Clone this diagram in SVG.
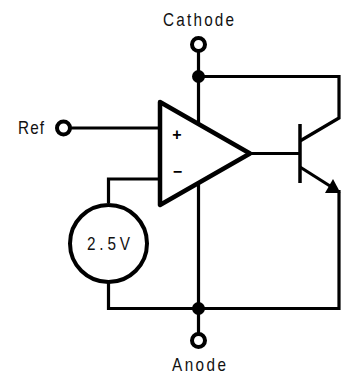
<svg xmlns="http://www.w3.org/2000/svg" width="344" height="374" viewBox="0 0 344 374">
<style>
.w{fill:none;stroke:#000;stroke-width:3.2}
.o{fill:#fff;stroke:#000;stroke-width:4}
.t{font-family:"Liberation Sans",Arial,sans-serif;font-size:18px;fill:#111}
.s{font-family:"Liberation Sans",Arial,sans-serif;font-size:16px;font-weight:bold;fill:#000;text-anchor:middle}
</style>
<g id="connectors">
<path class="w" d="M198.500 50V125"/>
<path class="w" d="M198.500 76.500H339V118L300 141"/>
<path class="w" d="M71 128H160"/>
<path class="w" d="M160 179H108.500V203"/>
<path class="w" d="M108.500 282V308.500H339V190"/>
<path class="w" d="M198.500 177V335"/>
<path class="w" d="M250 153.500H300"/>
<path class="w" d="M300 167L330 186"/>
<polygon points="325,193 333,179 340.500,193" fill="#000"/>
</g>
<g id="opamp"><polygon points="160,102 250,153.500 160,205" fill="#fff" stroke="#000" stroke-width="4.500" stroke-linejoin="round"/>
<text class="s" x="177" y="139.500">+</text><text class="s" x="177.500" y="177">−</text></g>
<g id="transistor"><path d="M300 124V183" fill="none" stroke="#000" stroke-width="3.500"/></g>
<g id="junction-top"><circle cx="198.500" cy="76.500" r="6.500"/></g>
<g id="junction-bottom"><circle cx="198.500" cy="308.500" r="6.500"/></g>
<g id="cathode"><circle class="o" cx="198.500" cy="44.500" r="6.500"/><text class="t" transform="translate(163 25.500) scale(.85 1)" letter-spacing="2.600">Cathode</text></g>
<g id="anode"><circle class="o" cx="198.500" cy="340.500" r="6.500"/><text class="t" transform="translate(172 371) scale(.85 1)" letter-spacing="2.900">Anode</text></g>
<g id="ref"><circle class="o" cx="63.500" cy="128" r="6.500"/><text class="t" transform="translate(18 133.500) scale(.85 1)" letter-spacing="1.300">Ref</text></g>
<g id="source"><circle cx="108.500" cy="243.500" r="38.500" fill="#fff" stroke="#000" stroke-width="4"/><text class="t" transform="translate(87 250) scale(.85 1)" letter-spacing="4.500">2.5V</text></g>
</svg>
